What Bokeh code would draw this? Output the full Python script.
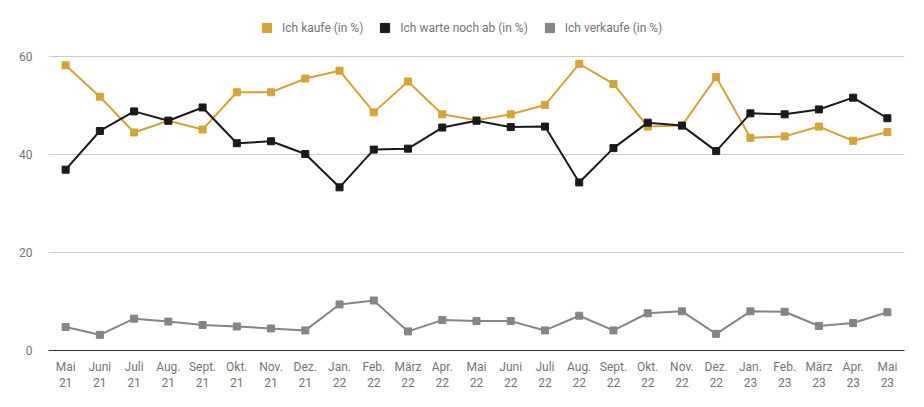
from bokeh.plotting import figure
from bokeh.models import Legend, LegendItem, Range1d
from bokeh.embed import file_html
from bokeh.resources import INLINE

months = ["Mai\n21", "Juni\n21", "Juli\n21", "Aug.\n21", "Sept.\n21", "Okt.\n21", "Nov.\n21", "Dez.\n21",
          "Jan.\n22", "Feb.\n22", "März\n22", "Apr.\n22", "Mai\n22", "Juni\n22", "Juli\n22", "Aug.\n22",
          "Sept.\n22", "Okt.\n22", "Nov.\n22", "Dez.\n22", "Jan.\n23", "Feb.\n23", "März\n23", "Apr.\n23", "Mai\n23"]

kaufe = [58.2, 51.8, 44.5, 46.9, 45.1, 52.7, 52.7, 55.5, 57.1, 48.6, 54.9, 48.2, 47.0,
         48.2, 50.1, 58.5, 54.4, 45.7, 45.9, 55.8, 43.4, 43.7, 45.7, 42.8, 44.6]
warte = [36.9, 44.8, 48.8, 46.9, 49.6, 42.3, 42.7, 40.1, 33.3, 41.0, 41.2, 45.5, 46.9,
         45.6, 45.7, 34.3, 41.3, 46.5, 45.9, 40.7, 48.4, 48.2, 49.2, 51.6, 47.4]
verkaufe = [4.8, 3.2, 6.5, 5.9, 5.2, 4.9, 4.5, 4.1, 9.4, 10.2, 3.9, 6.2, 6.0,
            6.0, 4.1, 7.1, 4.1, 7.6, 8.0, 3.4, 8.0, 7.9, 5.0, 5.6, 7.8]

series_names = ["Ich kaufe (in %)", "Ich warte noch ab (in %)", "Ich verkaufe (in %)"]
colors = ["#d4a437", "#1a1a1a", "#858585"]
yticks = [0, 20, 40, 60]

FONT = "Roboto"

p = figure(width=924, height=407, x_range=months, y_range=Range1d(0, 68.37),
           output_backend="svg", toolbar_location=None,
           min_border_left=48, min_border_right=20, min_border_top=15, min_border_bottom=57)
p.outline_line_color = None
p.x_range.range_padding = 0

items = []
for name, vals, col in zip(series_names, [kaufe, warte, verkaufe], colors):
    p.line(months, vals, line_color=col, line_width=2)
    r = p.scatter(months, vals, marker="square", size=7, fill_color=col, line_color=col)
    items.append(LegendItem(label=name, renderers=[r]))

legend = Legend(items=items, orientation="horizontal", location=(207, 311),
                label_text_font=FONT, label_text_font_size="12px", label_text_color="#757575",
                border_line_color=None, background_fill_alpha=0,
                glyph_width=23, glyph_height=23, spacing=10, label_standoff=4,
                padding=0, margin=0)
p.add_layout(legend, "center")

p.yaxis.ticker = yticks
p.yaxis.axis_line_color = None
p.yaxis.major_tick_line_color = None
p.yaxis.minor_tick_line_color = None
p.yaxis.major_label_text_font = FONT
p.yaxis.major_label_text_font_size = "12px"
p.yaxis.major_label_text_color = "#757575"
p.yaxis.major_label_standoff = 10

p.xaxis.axis_line_color = "#333333"
p.xaxis.axis_line_width = 1
p.xaxis.major_tick_line_color = None
p.xaxis.minor_tick_line_color = None
p.xaxis.major_label_text_font = FONT
p.xaxis.major_label_text_font_size = "12px"
p.xaxis.major_label_text_color = "#757575"
p.xaxis.major_label_standoff = 3

p.xgrid.grid_line_color = None
p.ygrid.grid_line_color = "#cccccc"
p.ygrid.ticker = yticks

open("out.html", "w").write(file_html(p, INLINE))
